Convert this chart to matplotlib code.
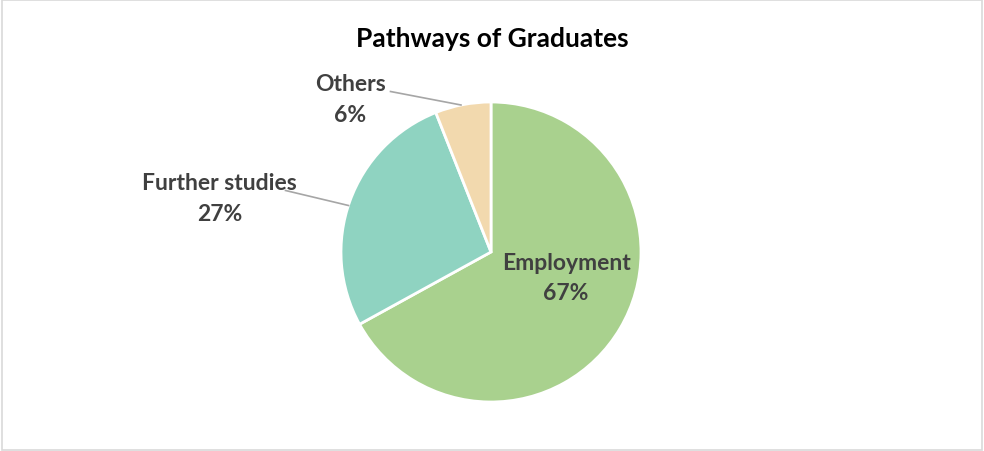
import matplotlib.pyplot as plt
from matplotlib.patches import Rectangle

plt.rcParams['font.family'] = ['Lato', 'DejaVu Sans']

categories = ['Employment', 'Further studies', 'Others']
shares = [67, 27, 6]
colors = ['#A9D18E', '#8FD3C1', '#F2D9AE']

fig = plt.figure(figsize=(9.84, 4.52), dpi=100)
fig.patch.set_facecolor('white')
fig.patches.append(Rectangle((0.002, 0.003), 0.996, 0.994, transform=fig.transFigure,
                             fill=False, edgecolor='#D9D9D9', linewidth=1.2))

# pie box: centre (491, 253) px, radius 150 px
ax = fig.add_axes([341 / 984, 49 / 452, 300 / 984, 300 / 452])
wedges, _ = ax.pie(shares, colors=colors, startangle=90, counterclock=False,
                   radius=1.0, wedgeprops=dict(edgecolor='white', linewidth=2))
ax.set_xlim(-1, 1)
ax.set_ylim(-1, 1)
ax.set_aspect('equal')
ax.axis('off')

# label centres in data units (pie radius = 1)
label_pos = [(0.50, -0.17), (-1.81, 0.36), (-0.94, 1.02)]
leaders = [None,
           [(-1.37, 0.41), (-0.95, 0.31)],
           [(-0.67, 1.07), (-0.20, 0.98)]]

for name, val, pos, ld in zip(categories, shares, label_pos, leaders):
    ax.text(pos[0], pos[1], '%s\n%d%%' % (name, val), ha='center', va='center',
            fontsize=16.5, fontweight='bold', color='#404040', linespacing=1.55)
    if ld is not None:
        ax.plot([ld[0][0], ld[1][0]], [ld[0][1], ld[1][1]], color='#A6A6A6',
                linewidth=1.2, clip_on=False)

fig.text(492 / 984, 1 - 39 / 452, 'Pathways of Graduates', ha='center', va='center',
         fontsize=19, fontweight='bold', color='black')

fig.savefig('out.png', dpi=100)
